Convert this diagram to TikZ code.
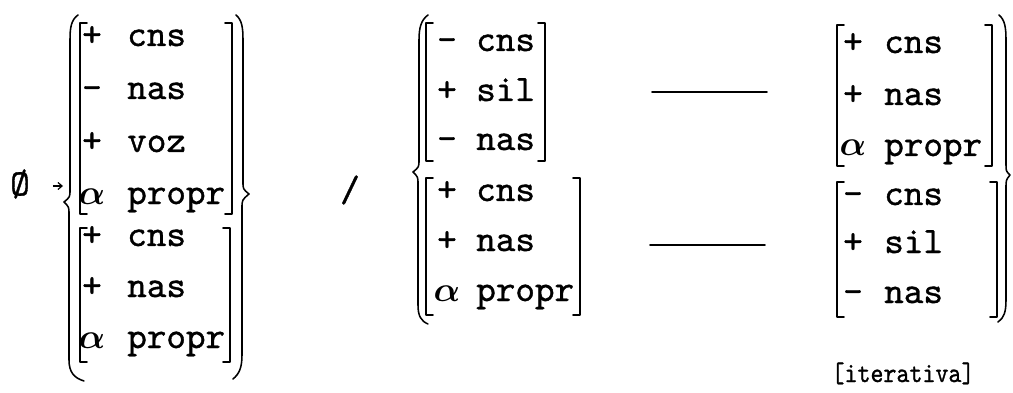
\documentclass[tikz,border=0pt]{standalone}
\usepackage{fontspec}
\usepackage{graphicx}
\usetikzlibrary{arrows.meta}

\newfontfamily\typewr{lmmono10-regular.otf}[FakeBold=1.0]
\newcommand{\rulefont}{\typewr\fontsize{26.5}{30}\selectfont}
\newcommand{\notefont}{\typewr\fontsize{20}{24}\selectfont}
\newcommand{\alf}{{\boldmath$\alpha$}}

\tikzset{
  sgn/.style={anchor=base, inner sep=0pt, font=\rulefont},
  feat/.style={anchor=base west, inner sep=0pt, font=\rulefont},
  delim/.style={line width=1.1pt, line cap=round, line join=round},
  arr/.style={line width=0.8pt, -{Straight Barb[length=3pt,width=5pt]}}
}

\begin{document}
\begin{tikzpicture}[x=0.025cm, y=-0.025cm]
  \useasboundingbox (0,0) rectangle (1013,393);

  % left side of the rule
  \node[font=\rulefont] (zero) at (20,184) {Ø};
  \coordinate (arrtip) at (63,186);
  \draw[arr, shorten <=0.45cm] (zero.east |- arrtip) -- (arrtip);

  \draw[delim] (78,15) .. controls (71,20) and (70,28) .. (70,40) -- (70,190)
    .. controls (70,197) .. (64,202) .. controls (69,207) .. (69,214) -- (69,360)
    .. controls (69,372) and (74,378) .. (84,381);

  \foreach \s/\f/\y [count=\i] in {+/cns/46, -/nas/99, +/voz/152, \alf/propr/204} {
    \node[sgn] (la-s\i) at (92,\y) {\s};
    \node[feat] (la-f\i) at (127,\y) {\f};
  }
  \draw[delim] (87,23) -- (80,23) -- (80,214) -- (87,214);
  \draw[delim] (225,23) -- (232,23) -- (232,214) -- (225,214);

  \foreach \s/\f/\y [count=\i] in {+/cns/246, +/nas/297, \alf/propr/348} {
    \node[sgn] (lb-s\i) at (92,\y) {\s};
    \node[feat] (lb-f\i) at (127,\y) {\f};
  }
  \draw[delim] (87,228) -- (80,228) -- (80,362) -- (87,362);
  \draw[delim] (223,228) -- (230,228) -- (230,362) -- (223,362);

  \draw[delim] (236,15) .. controls (242,20) and (243,28) .. (243,40) -- (243,182)
    .. controls (243,189) .. (249,194) .. controls (242,200) .. (242,208) -- (242,355)
    .. controls (242,368) and (239,374) .. (233,379);

  \node[font=\rulefont] (slash) at (350,190) {/};

  % environment
  \draw[delim] (428,15) .. controls (421,20) and (419,28) .. (419,40) -- (419,160)
    .. controls (419,167) .. (413,172) .. controls (418,177) .. (418,184) -- (418,305)
    .. controls (418,316) and (421,321) .. (428,324);

  \foreach \s/\f/\y [count=\i] in {-/cns/51, +/sil/101, -/nas/150} {
    \node[sgn] (ma-s\i) at (447,\y) {\s};
    \node[feat] (ma-f\i) at (476,\y) {\f};
  }
  \draw[delim] (433,23) -- (426,23) -- (426,161) -- (433,161);
  \draw[delim] (538,23) -- (545,23) -- (545,161) -- (538,161);

  \foreach \s/\f/\y [count=\i] in {+/cns/201, +/nas/251, \alf/propr/301} {
    \node[sgn] (mb-s\i) at (447,\y) {\s};
    \node[feat] (mb-f\i) at (476,\y) {\f};
  }
  \draw[delim] (433,178) -- (426,178) -- (426,315) -- (433,315);
  \draw[delim] (573,178) -- (580,178) -- (580,315) -- (573,315);

  \draw[delim] (652,92) -- (767,92);
  \draw[delim] (650,245) -- (765,245);

  \foreach \s/\f/\y [count=\i] in {+/cns/53, +/nas/105, \alf/propr/156} {
    \node[sgn] (ra-s\i) at (853,\y) {\s};
    \node[feat] (ra-f\i) at (884,\y) {\f};
  }
  \draw[delim] (844,25) -- (837,25) -- (837,166) -- (844,166);
  \draw[delim] (985,25) -- (992,25) -- (992,166) -- (985,166);

  \foreach \s/\f/\y [count=\i] in {-/cns/205, +/sil/253, -/nas/303} {
    \node[sgn] (rb-s\i) at (853,\y) {\s};
    \node[feat] (rb-f\i) at (884,\y) {\f};
  }
  \draw[delim] (844,182) -- (837,182) -- (837,317) -- (844,317);
  \draw[delim] (990,182) -- (997,182) -- (997,317) -- (990,317);

  \draw[delim] (999,15) .. controls (1005,20) and (1006,28) .. (1006,40) -- (1006,165)
    .. controls (1006,171) .. (1010,175) .. controls (1006,180) .. (1006,188) -- (1006,300)
    .. controls (1006,312) and (1004,318) .. (998,322);

  \node[font=\notefont, anchor=base, inner sep=0pt] (iter) at (903,382)
    {\scalebox{0.88}[1]{[iterativa]}};
\end{tikzpicture}
\end{document}
